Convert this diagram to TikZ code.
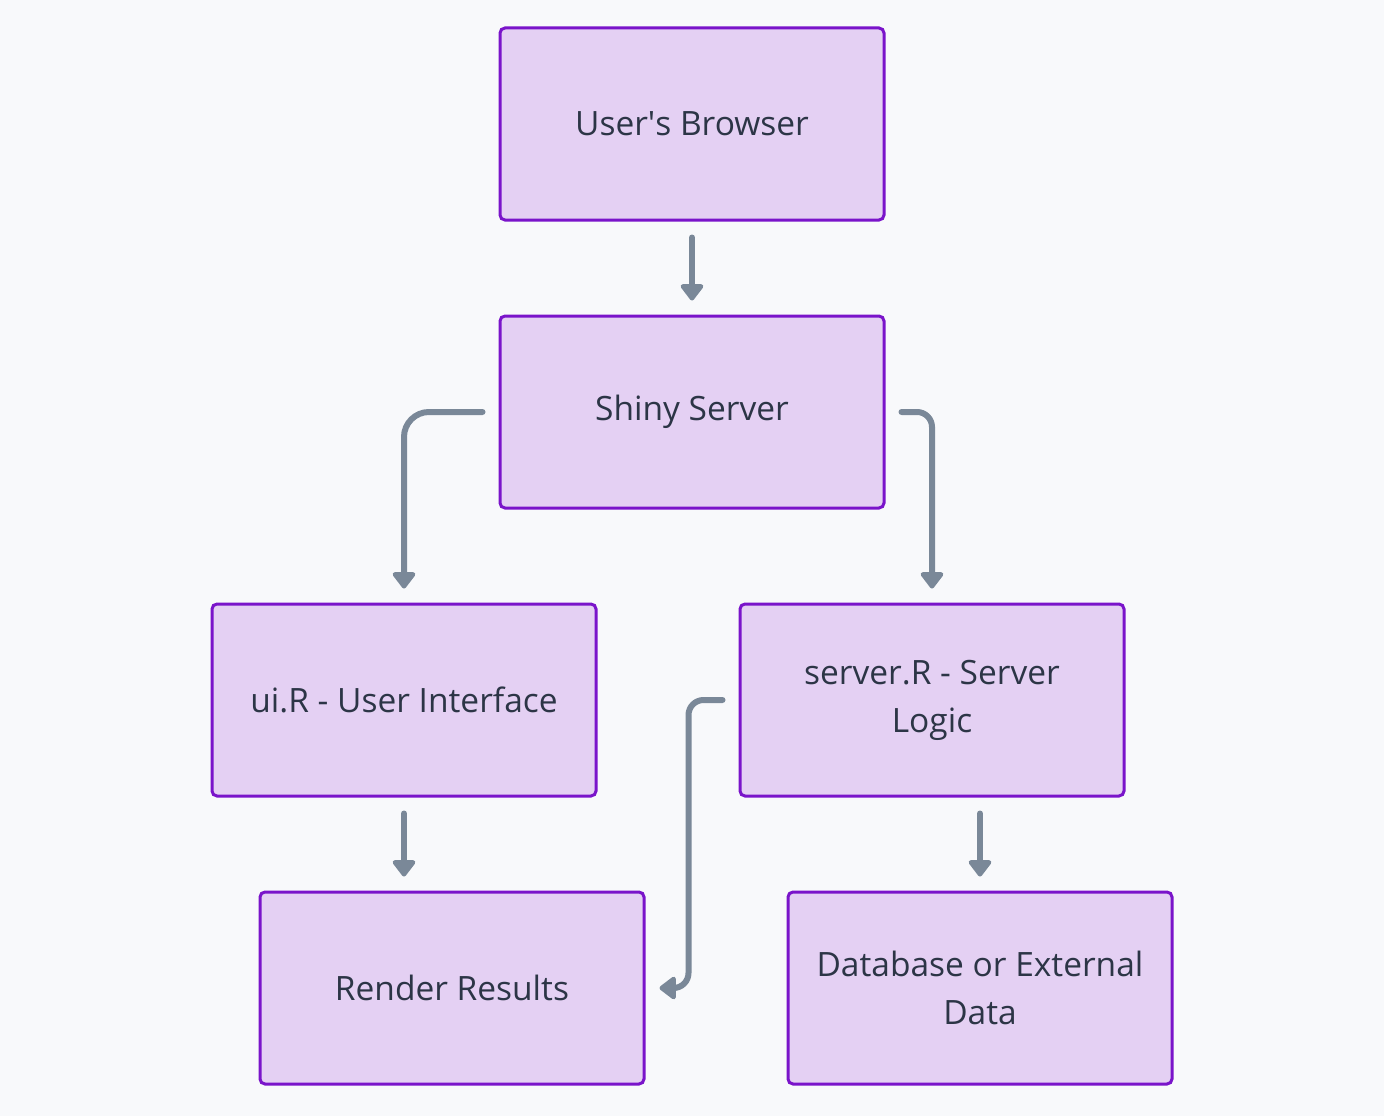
\documentclass[tikz,border=0pt]{standalone}
\usepackage{fontspec}
\setmainfont{Open Sans}
\usetikzlibrary{arrows.meta}
\definecolor{bgcol}{HTML}{F8F9FB}
\definecolor{boxfill}{HTML}{E4D0F3}
\definecolor{boxline}{HTML}{7A14CA}
\definecolor{textcol}{HTML}{2C3546}
\definecolor{arrowcol}{HTML}{7A8898}
\tikzset{
    box/.style={draw=boxline, fill=boxfill, line width=3pt, rounded corners=5pt,
        minimum width=384pt, minimum height=192pt, text=textcol,
        align=center, font=\fontsize{33.5}{48}\selectfont},
    flow/.style={draw=arrowcol, line width=6pt, line cap=round,
        -{Triangle[length=18pt,width=26pt,round]}},
}
\begin{document}
\begin{tikzpicture}[x=1pt,y=-1pt]
    \useasboundingbox[fill=bgcol] (0,0) rectangle (1384,1116);
    
    % Boxes
    \node[box] (browser) at (692,124) {User\textquotesingle s Browser};
    \node[box] (shiny) at (692,412) {Shiny Server};
    \node[box] (ui) at (404,700) {ui.R - User Interface};
    \node[box] (server) at (932,700) {server.R - Server\\Logic};
    \node[box] (render) at (452,988) {Render Results};
    \node[box] (data) at (980,988) {Database or External\\Data};
    
    % Arrows
    \draw[flow] ([yshift=-16pt]browser.south) -- ([yshift=14pt]shiny.north);
    \draw[flow, rounded corners=25pt] ([xshift=-16pt]shiny.west) -| ([yshift=14pt]ui.north);
    \draw[flow, rounded corners=15pt] ([xshift=16pt]shiny.east) -| ([yshift=14pt]server.north);
    \draw[flow] ([yshift=-16pt]ui.south) -- ([yshift=14pt]render.north -| ui.south);
    \draw[flow, rounded corners=15pt] ([xshift=-16pt]server.west) -- ++(-34,0) |- ([xshift=14pt]render.east);
    \draw[flow] ([yshift=-16pt]server.south -| data.north) -- ([yshift=14pt]data.north);
\end{tikzpicture}
\end{document}
